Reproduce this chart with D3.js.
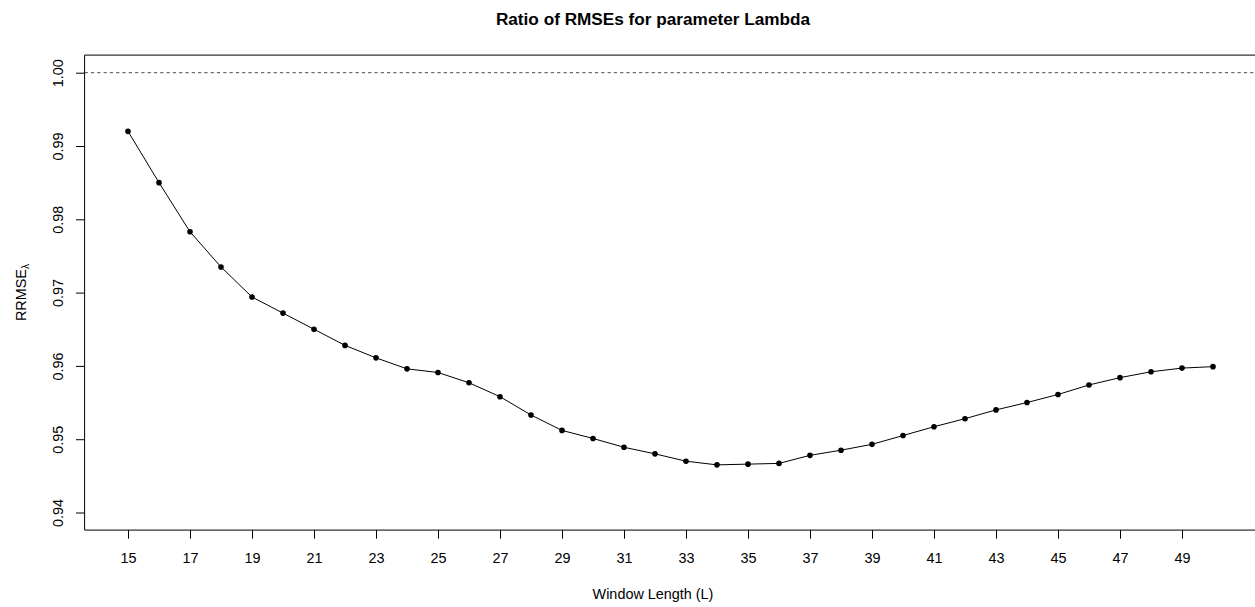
<!DOCTYPE html>
<html>
<head>
<meta charset="utf-8">
<script src="https://cdn.jsdelivr.net/npm/d3@7"></script>
<style>
  html, body { margin: 0; padding: 0; background: #fff; overflow: hidden; }
  svg { display: block; }
  text { font-family: "Liberation Sans", Arial, Helvetica, sans-serif; fill: #000; }
</style>
</head>
<body>
<svg id="chart" width="1255" height="607"></svg>
<script>
// Window lengths L and the ratio of RMSEs for lambda at each length
const windowLengths = [15, 16, 17, 18, 19, 20, 21, 22, 23, 24, 25, 26, 27, 28, 29, 30, 31, 32,
  33, 34, 35, 36, 37, 38, 39, 40, 41, 42, 43, 44, 45, 46, 47, 48, 49, 50];
const rrmseLambda = [0.9920, 0.9850, 0.9783, 0.9735, 0.9694, 0.9672, 0.9650, 0.9628, 0.9611,
  0.9596, 0.9591, 0.9577, 0.9558, 0.9533, 0.9512, 0.9501, 0.9489, 0.9480, 0.9470, 0.9465,
  0.9466, 0.9467, 0.9478, 0.9485, 0.9493, 0.9505, 0.9517, 0.9528, 0.9540, 0.9550, 0.9561,
  0.9574, 0.9584, 0.9592, 0.9597, 0.9599];
const xTickValues = [15, 17, 19, 21, 23, 25, 27, 29, 31, 33, 35, 37, 39, 41, 43, 45, 47, 49];
const yTickValues = [0.94, 0.95, 0.96, 0.97, 0.98, 0.99, 1.00];
const referenceLevel = 1.0;

const titleText = "Ratio of RMSEs for parameter Lambda";
const xLabelText = "Window Length (L)";

const svg = d3.select("#chart");

// Plot region (axis limits padded by 4% on each side); the right edge runs past the canvas
const plot = { left: 84.6, right: 1256.4, top: 55.1, bottom: 530.1 };
const textCenter = 653;
const axisFont = 14.4;
const tickLen = 8.6;

const xPad = (50 - 15) * 0.04;
const yPad = (1.00 - 0.94) * 0.04;
const x = d3.scaleLinear().domain([15 - xPad, 50 + xPad]).range([plot.left, plot.right]);
const y = d3.scaleLinear().domain([0.94 - yPad, 1.00 + yPad]).range([plot.bottom, plot.top]);

// Horizontal reference line at ratio 1
svg.append("line")
  .attr("x1", plot.left).attr("x2", 1255)
  .attr("y1", y(referenceLevel)).attr("y2", y(referenceLevel))
  .attr("stroke", "#4d4d4d").attr("stroke-width", 1)
  .attr("stroke-dasharray", "3.3,3");

// Bottom axis
const xAxis = svg.append("g")
  .attr("transform", `translate(0,${plot.bottom})`)
  .call(d3.axisBottom(x).tickValues(xTickValues).tickSize(tickLen).tickPadding(0).tickFormat(d3.format("d")));
xAxis.select(".domain").remove();
xAxis.selectAll(".tick line").attr("stroke", "#000").attr("stroke-width", 1);
xAxis.selectAll(".tick text")
  .attr("dy", null).attr("y", 33)
  .style("font-size", axisFont + "px")
  .style("font-family", "'Liberation Sans', Arial, sans-serif");

// Left axis with rotated labels
const yAxis = svg.append("g")
  .attr("transform", `translate(${plot.left},0)`)
  .call(d3.axisLeft(y).tickValues(yTickValues).tickSize(tickLen).tickFormat(d3.format(".2f")));
yAxis.select(".domain").remove();
yAxis.selectAll(".tick line").attr("stroke", "#000").attr("stroke-width", 1);
yAxis.selectAll(".tick text")
  .attr("x", null).attr("dy", null)
  .attr("text-anchor", "middle")
  .attr("transform", `translate(${62.7 - plot.left},0) rotate(-90)`)
  .style("font-size", axisFont + "px")
  .style("font-family", "'Liberation Sans', Arial, sans-serif");

// Plot box: top, left and bottom sides (right side falls outside the canvas)
svg.append("path")
  .attr("d", `M${plot.right},${plot.top}H${plot.left}V${plot.bottom}H${plot.right}`)
  .attr("fill", "none").attr("stroke", "#000").attr("stroke-width", 1);

// Series line and points
const points = windowLengths.map((L, i) => ({ L, v: rrmseLambda[i] }));
svg.append("path")
  .datum(points)
  .attr("fill", "none").attr("stroke", "#000").attr("stroke-width", 1)
  .attr("d", d3.line().x(d => x(d.L)).y(d => y(d.v)));
svg.append("g").selectAll("circle")
  .data(points).join("circle")
  .attr("cx", d => x(d.L)).attr("cy", d => y(d.v))
  .attr("r", 2.8).attr("fill", "#000");

// Title and axis labels
svg.append("text")
  .attr("x", textCenter).attr("y", 24.5)
  .attr("text-anchor", "middle")
  .style("font-size", "17.2px").style("font-weight", "bold")
  .text(titleText);

svg.append("text")
  .attr("x", textCenter).attr("y", 599)
  .attr("text-anchor", "middle")
  .style("font-size", axisFont + "px")
  .text(xLabelText);

const yLabel = svg.append("text")
  .attr("text-anchor", "middle")
  .attr("transform", `translate(25.5,${(plot.top + plot.bottom) / 2}) rotate(-90)`)
  .style("font-size", axisFont + "px");
yLabel.append("tspan").text("RRMSE");
yLabel.append("tspan").attr("dy", 3.5).style("font-size", "10px").text("\u03bb");
</script>
</body>
</html>
